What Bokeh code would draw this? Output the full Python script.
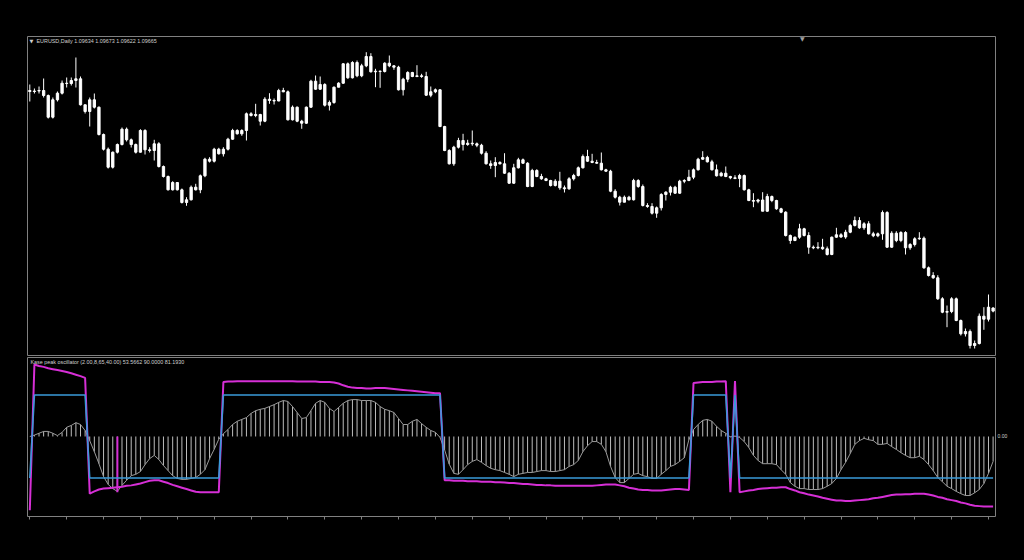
import numpy as np
from bokeh.plotting import figure
from bokeh.layouts import column
from bokeh.models import (ColumnDataSource, Range1d, Label, FixedTicker,
                          CustomJSTickFormatter, LinearAxis)
from bokeh.embed import file_html
from bokeh.resources import INLINE

# ---------------- data ----------------
price_title = "EURUSD,Daily  1.09634 1.09673 1.09622 1.09665"
osc_title = "Kase peak oscillator (2.00,8,65,40.00) 53.5662 90.0000 81.1930"
zero_label = "0.00"

open_ = [
 1.11840, 1.11830, 1.11835, 1.11840, 1.11790, 1.11573, 1.11747, 1.11813, 1.11913, 1.11910,
 1.11940, 1.11957, 1.11697, 1.11630, 1.11747, 1.11673, 1.11400, 1.11253, 1.11073, 1.11223,
 1.11300, 1.11453, 1.11347, 1.11300, 1.11223, 1.11440, 1.11247, 1.11240, 1.11307, 1.11080,
 1.10980, 1.10847, 1.10920, 1.10847, 1.10720, 1.10747, 1.10873, 1.10847, 1.10987, 1.11153,
 1.11133, 1.11253, 1.11207, 1.11253, 1.11353, 1.11440, 1.11407, 1.11440, 1.11607, 1.11590,
 1.11600, 1.11533, 1.11753, 1.11740, 1.11735, 1.11840, 1.11827, 1.11547, 1.11673, 1.11533,
 1.11513, 1.11673, 1.11933, 1.11853, 1.11900, 1.11693, 1.11720, 1.11873, 1.11913, 1.12107,
 1.11967, 1.12120, 1.11987, 1.12087, 1.12180, 1.12027, 1.12033, 1.12030, 1.12113, 1.12087,
 1.12073, 1.11847, 1.11953, 1.12020, 1.11980, 1.11987, 1.11980, 1.11793, 1.11827, 1.11847,
 1.11480, 1.11240, 1.11107, 1.11273, 1.11340, 1.11300, 1.11313, 1.11307, 1.11293, 1.11213,
 1.11107, 1.11090, 1.11120, 1.11107, 1.11013, 1.10913, 1.11067, 1.11147, 1.11113, 1.10880,
 1.11040, 1.10980, 1.10957, 1.10940, 1.10890, 1.10933, 1.10867, 1.10857, 1.10957, 1.10990,
 1.11067, 1.11180, 1.11133, 1.11120, 1.11113, 1.11047, 1.11033, 1.10833, 1.10773, 1.10723,
 1.10773, 1.10747, 1.10940, 1.10880, 1.10690, 1.10680, 1.10613, 1.10667, 1.10800, 1.10823,
 1.10873, 1.10813, 1.10933, 1.10940, 1.10973, 1.11047, 1.11153, 1.11170, 1.11127, 1.11047,
 1.10987, 1.11013, 1.10980, 1.10967, 1.10960, 1.10990, 1.10847, 1.10740, 1.10733, 1.10745,
 1.10633, 1.10780, 1.10740, 1.10657, 1.10623, 1.10390, 1.10340, 1.10373, 1.10457, 1.10390,
 1.10273, 1.10267, 1.10273, 1.10257, 1.10200, 1.10373, 1.10397, 1.10375, 1.10423, 1.10490,
 1.10540, 1.10467, 1.10507, 1.10407, 1.10387, 1.10407, 1.10620, 1.10273, 1.10413, 1.10340,
 1.10420, 1.10267, 1.10300, 1.10357, 1.10363, 1.10067, 1.09990, 1.09967, 1.09757, 1.09623,
 1.09630, 1.09757, 1.09540, 1.09407, 1.09430, 1.09290, 1.09310, 1.09583, 1.09553, 1.09634]

high = [
 1.11900, 1.11860, 1.11880, 1.11960, 1.11800, 1.11770, 1.11830, 1.11940, 1.11970, 1.11970,
 1.12170, 1.11980, 1.11700, 1.11770, 1.11810, 1.11680, 1.11410, 1.11270, 1.11230, 1.11310,
 1.11470, 1.11470, 1.11360, 1.11310, 1.11453, 1.11453, 1.11273, 1.11347, 1.11323, 1.11090,
 1.10990, 1.10933, 1.10920, 1.10860, 1.10773, 1.10890, 1.10907, 1.11000, 1.11167, 1.11173,
 1.11267, 1.11267, 1.11273, 1.11367, 1.11457, 1.11453, 1.11453, 1.11620, 1.11623, 1.11707,
 1.11607, 1.11773, 1.11813, 1.11760, 1.11857, 1.11867, 1.11840, 1.11690, 1.11680, 1.11547,
 1.11680, 1.11947, 1.11990, 1.11980, 1.11913, 1.11740, 1.11880, 1.11923, 1.12113, 1.12120,
 1.12133, 1.12140, 1.12107, 1.12223, 1.12213, 1.12057, 1.12040, 1.12123, 1.12190, 1.12093,
 1.12087, 1.11967, 1.12033, 1.12027, 1.12093, 1.12007, 1.12027, 1.11880, 1.11860, 1.11853,
 1.11487, 1.11253, 1.11287, 1.11367, 1.11407, 1.11347, 1.11440, 1.11320, 1.11307, 1.11233,
 1.11140, 1.11173, 1.11133, 1.11213, 1.11023, 1.11107, 1.11167, 1.11160, 1.11123, 1.11057,
 1.11053, 1.11007, 1.10967, 1.10947, 1.10953, 1.11027, 1.10890, 1.10973, 1.11007, 1.11080,
 1.11200, 1.11247, 1.11207, 1.11147, 1.11220, 1.11057, 1.11047, 1.10853, 1.10787, 1.10790,
 1.10787, 1.10957, 1.10953, 1.10900, 1.10713, 1.10713, 1.10680, 1.10813, 1.10833, 1.10887,
 1.10887, 1.10947, 1.10953, 1.11047, 1.11060, 1.11167, 1.11233, 1.11187, 1.11147, 1.11100,
 1.11027, 1.11080, 1.10987, 1.10993, 1.11007, 1.11000, 1.10857, 1.10813, 1.10757, 1.10823,
 1.10807, 1.10790, 1.10747, 1.10667, 1.10633, 1.10400, 1.10380, 1.10507, 1.10467, 1.10423,
 1.10290, 1.10323, 1.10357, 1.10280, 1.10380, 1.10467, 1.10413, 1.10447, 1.10507, 1.10580,
 1.10573, 1.10523, 1.10533, 1.10427, 1.10420, 1.10640, 1.10633, 1.10433, 1.10433, 1.10433,
 1.10433, 1.10313, 1.10373, 1.10423, 1.10380, 1.10080, 1.10023, 1.09993, 1.09773, 1.09690,
 1.09773, 1.09770, 1.09550, 1.09460, 1.09450, 1.09340, 1.09610, 1.09673, 1.09800, 1.09673]

low = [
 1.11730, 1.11810, 1.11810, 1.11770, 1.11560, 1.11560, 1.11730, 1.11800, 1.11870, 1.11890,
 1.11870, 1.11690, 1.11610, 1.11480, 1.11660, 1.11390, 1.11240, 1.11060, 1.11060, 1.11210,
 1.11290, 1.11330, 1.11270, 1.11210, 1.11220, 1.11200, 1.11220, 1.11140, 1.11070, 1.10970,
 1.10840, 1.10840, 1.10840, 1.10710, 1.10687, 1.10740, 1.10840, 1.10813, 1.10973, 1.11120,
 1.11120, 1.11200, 1.11180, 1.11240, 1.11347, 1.11400, 1.11387, 1.11340, 1.11580, 1.11573,
 1.11490, 1.11523, 1.11707, 1.11700, 1.11733, 1.11823, 1.11540, 1.11540, 1.11523, 1.11457,
 1.11507, 1.11667, 1.11847, 1.11847, 1.11680, 1.11640, 1.11707, 1.11873, 1.11907, 1.11957,
 1.11960, 1.11973, 1.11973, 1.12073, 1.12020, 1.11873, 1.11867, 1.12020, 1.12073, 1.12047,
 1.11840, 1.11790, 1.11923, 1.11973, 1.11973, 1.11967, 1.11787, 1.11773, 1.11813, 1.11473,
 1.11233, 1.11100, 1.11087, 1.11260, 1.11240, 1.11287, 1.11287, 1.11273, 1.11200, 1.11100,
 1.11057, 1.10973, 1.11100, 1.11007, 1.10907, 1.10907, 1.11060, 1.11107, 1.10873, 1.10873,
 1.10973, 1.10947, 1.10933, 1.10880, 1.10880, 1.10847, 1.10820, 1.10847, 1.10940, 1.10980,
 1.11060, 1.11127, 1.11113, 1.11107, 1.11040, 1.11027, 1.10823, 1.10760, 1.10690, 1.10723,
 1.10740, 1.10740, 1.10867, 1.10680, 1.10667, 1.10600, 1.10567, 1.10640, 1.10740, 1.10790,
 1.10807, 1.10807, 1.10913, 1.10933, 1.10953, 1.11040, 1.11147, 1.11120, 1.11040, 1.10980,
 1.10980, 1.10973, 1.10953, 1.10953, 1.10873, 1.10840, 1.10733, 1.10673, 1.10713, 1.10633,
 1.10627, 1.10723, 1.10647, 1.10613, 1.10380, 1.10307, 1.10333, 1.10357, 1.10380, 1.10207,
 1.10253, 1.10253, 1.10247, 1.10190, 1.10193, 1.10367, 1.10367, 1.10357, 1.10413, 1.10480,
 1.10457, 1.10447, 1.10400, 1.10373, 1.10373, 1.10347, 1.10267, 1.10267, 1.10323, 1.10323,
 1.10200, 1.10247, 1.10280, 1.10347, 1.10057, 1.09980, 1.09957, 1.09747, 1.09613, 1.09473,
 1.09613, 1.09533, 1.09390, 1.09380, 1.09260, 1.09260, 1.09300, 1.09447, 1.09530, 1.09622]

close = [
 1.11830, 1.11835, 1.11840, 1.11790, 1.11573, 1.11747, 1.11813, 1.11913, 1.11910, 1.11940,
 1.11957, 1.11697, 1.11630, 1.11747, 1.11673, 1.11400, 1.11253, 1.11073, 1.11223, 1.11300,
 1.11453, 1.11347, 1.11300, 1.11223, 1.11440, 1.11247, 1.11240, 1.11307, 1.11080, 1.10980,
 1.10847, 1.10920, 1.10847, 1.10720, 1.10747, 1.10873, 1.10847, 1.10987, 1.11153, 1.11133,
 1.11253, 1.11207, 1.11253, 1.11353, 1.11440, 1.11407, 1.11440, 1.11607, 1.11590, 1.11600,
 1.11533, 1.11753, 1.11740, 1.11735, 1.11840, 1.11827, 1.11547, 1.11673, 1.11533, 1.11513,
 1.11673, 1.11933, 1.11853, 1.11900, 1.11693, 1.11720, 1.11873, 1.11913, 1.12107, 1.11967,
 1.12120, 1.11987, 1.12087, 1.12180, 1.12027, 1.12033, 1.12030, 1.12113, 1.12087, 1.12073,
 1.11847, 1.11953, 1.12020, 1.11980, 1.11987, 1.11980, 1.11793, 1.11827, 1.11847, 1.11480,
 1.11240, 1.11107, 1.11273, 1.11340, 1.11300, 1.11313, 1.11307, 1.11293, 1.11213, 1.11107,
 1.11090, 1.11120, 1.11107, 1.11013, 1.10913, 1.11067, 1.11147, 1.11113, 1.10880, 1.11040,
 1.10980, 1.10957, 1.10940, 1.10890, 1.10933, 1.10867, 1.10857, 1.10957, 1.10990, 1.11067,
 1.11180, 1.11133, 1.11120, 1.11113, 1.11047, 1.11033, 1.10833, 1.10773, 1.10723, 1.10773,
 1.10747, 1.10940, 1.10880, 1.10690, 1.10680, 1.10613, 1.10667, 1.10800, 1.10823, 1.10873,
 1.10813, 1.10933, 1.10940, 1.10973, 1.11047, 1.11153, 1.11170, 1.11127, 1.11047, 1.10987,
 1.11013, 1.10980, 1.10967, 1.10960, 1.10990, 1.10847, 1.10740, 1.10733, 1.10745, 1.10633,
 1.10780, 1.10740, 1.10657, 1.10623, 1.10390, 1.10340, 1.10373, 1.10457, 1.10390, 1.10273,
 1.10267, 1.10273, 1.10257, 1.10200, 1.10373, 1.10397, 1.10375, 1.10423, 1.10490, 1.10540,
 1.10467, 1.10507, 1.10407, 1.10387, 1.10407, 1.10620, 1.10273, 1.10413, 1.10340, 1.10420,
 1.10267, 1.10300, 1.10357, 1.10363, 1.10067, 1.09990, 1.09967, 1.09757, 1.09623, 1.09630,
 1.09757, 1.09540, 1.09407, 1.09430, 1.09290, 1.09310, 1.09583, 1.09553, 1.09673, 1.09665]

kase_hist = [
 0, 3, 7, 11, 11, 7, 2, 9, 20, 24,
 30, 26, 13, -9, -33, -59, -87, -104, -113, -119,
 -106, -95, -85, -82, -76, -61, -48, -41, -50, -63,
 -74, -85, -91, -93, -93, -91, -89, -82, -72, -48,
 -28, -6, 6, 15, 26, 33, 37, 41, 50, 56,
 59, 61, 65, 69, 74, 78, 76, 65, 52, 39,
 41, 56, 72, 78, 74, 61, 54, 63, 72, 78,
 80, 80, 78, 78, 78, 74, 65, 59, 56, 52,
 39, 26, 26, 33, 37, 28, 20, 13, 9, -2,
 -29, -60, -80, -82, -72, -61, -54, -50, -56, -63,
 -69, -72, -74, -78, -82, -87, -82, -80, -78, -78,
 -76, -74, -74, -76, -76, -74, -72, -65, -61, -52,
 -33, -20, -11, -11, -17, -33, -65, -89, -100, -100,
 -91, -82, -80, -85, -87, -91, -91, -82, -74, -65,
 -61, -54, -46, -7, 15, 26, 35, 37, 33, 22,
 13, 7, -1, 1, -2, -11, -24, -41, -52, -59,
 -59, -59, -61, -72, -82, -100, -108, -113, -113, -115,
 -115, -115, -113, -108, -102, -91, -72, -56, -37, -17,
 -9, -4, -7, -9, -17, -17, -15, -22, -28, -35,
 -41, -46, -46, -43, -50, -61, -74, -89, -98, -108,
 -113, -119, -124, -128, -128, -122, -115, -102, -80, -54]

kase_blue = [
 -90, 90, 90, 90, 90, 90, 90, 90, 90, 90,
 90, 90, 90, -90, -90, -90, -90, -90, -90, -90,
 -90, -90, -90, -90, -90, -90, -90, -90, -90, -90,
 -90, -90, -90, -90, -90, -90, -90, -90, -90, -90,
 -90, -90, 90, 90, 90, 90, 90, 90, 90, 90,
 90, 90, 90, 90, 90, 90, 90, 90, 90, 90,
 90, 90, 90, 90, 90, 90, 90, 90, 90, 90,
 90, 90, 90, 90, 90, 90, 90, 90, 90, 90,
 90, 90, 90, 90, 90, 90, 90, 90, 90, 90,
 -90, -90, -90, -90, -90, -90, -90, -90, -90, -90,
 -90, -90, -90, -90, -90, -90, -90, -90, -90, -90,
 -90, -90, -90, -90, -90, -90, -90, -90, -90, -90,
 -90, -90, -90, -90, -90, -90, -90, -90, -90, -90,
 -90, -90, -90, -90, -90, -90, -90, -90, -90, -90,
 -90, -90, -90, -90, 90, 90, 90, 90, 90, 90,
 90, 90, -90, 90, -90, -90, -90, -90, -90, -90,
 -90, -90, -90, -90, -90, -90, -90, -90, -90, -90,
 -90, -90, -90, -90, -90, -90, -90, -90, -90, -90,
 -90, -90, -90, -90, -90, -90, -90, -90, -90, -90,
 -90, -90, -90, -90, -90, -90, -90, -90, -90, -90,
 -90, -90, -90, -90, -90, -90, -90, -90, -90, -90]

kase_magenta = [
 -160, 156, 153, 151, 148, 146, 144, 142, 140, 137,
 134, 131, 127, -124, -119, -115, -113, -112, -111, -110,
 -109, -107, -106, -104, -102, -99, -96, -95, -95, -98,
 -101, -105, -108, -111, -114, -117, -120, -121, -121, -121,
 -121, -121, 118, 119, 119, 120, 120, 120, 120, 120,
 120, 120, 120, 120, 120, 120, 120, 120, 119, 119,
 119, 119, 119, 118, 118, 118, 117, 115, 111, 108,
 106, 105, 105, 104, 104, 105, 105, 105, 104, 103,
 102, 101, 100, 99, 98, 97, 96, 95, 94, 94,
 -95, -95, -96, -96, -96, -97, -97, -97, -98, -98,
 -98, -99, -99, -100, -101, -101, -102, -103, -103, -104,
 -105, -105, -106, -106, -107, -107, -107, -107, -107, -107,
 -107, -107, -107, -106, -105, -104, -104, -104, -106, -108,
 -111, -113, -115, -116, -116, -117, -117, -117, -116, -115,
 -114, -114, -115, -116, 116, 117, 118, 118, 118, 119,
 119, 120, -121, 120, -121, -119, -117, -116, -114, -113,
 -112, -111, -111, -110, -110, -114, -117, -121, -123, -126,
 -128, -130, -133, -135, -137, -139, -139, -140, -140, -139,
 -138, -137, -136, -134, -133, -131, -129, -127, -126, -126,
 -125, -125, -124, -124, -124, -126, -128, -131, -133, -136,
 -138, -140, -143, -145, -148, -150, -151, -152, -152, -152]

# peak-out marker of the magenta line
peak_bar = [20]
peak_value = [-121]

# ---------------- styling / layout ----------------
BG = "#000000"
FRAME = "#808080"
TXT = "#d0d0d0"
FONT = "Liberation Sans"
BLACK_STYLE = {"background-color": "#000000"}

n = len(close)
bars = np.arange(1, n + 1)
xr = Range1d(0.5, n + 0.52)

o = np.array(open_)
c = np.array(close)
src = ColumnDataSource(dict(x=bars, o=o, c=c, h=high, l=low,
                            top=np.maximum(o, c), bottom=np.minimum(o, c)))

# page geometry: price frame x 27..995, y 36..355; oscillator frame y 357..516
p_top, p_bot = 1.1238, 1.0919
p1 = figure(width=1024, height=357, x_range=xr, y_range=Range1d(p_bot, p_top),
            toolbar_location=None, output_backend="svg", title=None,
            x_axis_location=None, y_axis_location=None,
            min_border_left=27, min_border_right=29, min_border_top=36, min_border_bottom=2,
            background_fill_color=BG, border_fill_color=BG,
            outline_line_color=FRAME, outline_line_width=1, styles=BLACK_STYLE)
p1.grid.visible = False
p1.segment(x0="x", y0="l", x1="x", y1="h", source=src, line_color="white", line_width=1)
p1.vbar(x="x", width=0.5, top="top", bottom="bottom", source=src,
        fill_color="white", line_color="white", line_width=1)

px1 = (p_top - p_bot) / 319.0
p1.add_layout(Label(x=0.5, y=p_top - 4 * px1, x_offset=2, text="\u25BC",
                    text_font="DejaVu Sans", text_font_size="5px", text_color=TXT,
                    text_baseline="middle"))
p1.add_layout(Label(x=0.5, y=p_top - 4 * px1, x_offset=9, text=price_title,
                    text_font=FONT, text_font_size="5.4px", text_color=TXT,
                    text_baseline="middle"))
# chart-shift marker under the top border
p1.add_layout(Label(x=168.6, y=p_top - 1.5 * px1, text="\u25BC", text_align="center",
                    text_font="DejaVu Sans", text_font_size="6px", text_color="#a0a0a0",
                    text_baseline="middle"))

o_top, o_bot = 171.3, -173.5
osrc = ColumnDataSource(dict(x=bars, hist=kase_hist, blue=kase_blue, mag=kase_magenta))
p2 = figure(width=1024, height=203, x_range=xr, y_range=Range1d(o_bot, o_top),
            toolbar_location=None, output_backend="svg", title=None,
            x_axis_location="below", y_axis_location=None,
            min_border_left=27, min_border_right=29, min_border_top=0, min_border_bottom=44,
            background_fill_color=BG, border_fill_color=BG,
            outline_line_color=FRAME, outline_line_width=1, styles=BLACK_STYLE)
p2.grid.visible = False
ax = p2.xaxis[0]
ax.ticker = FixedTicker(ticks=list(range(1, n + 1, 8)))
ax.formatter = CustomJSTickFormatter(code="return ''")
ax.axis_line_color = None
ax.major_tick_line_color = FRAME
ax.major_tick_in = 0
ax.major_tick_out = 3
ax.minor_tick_line_color = None
ax.major_label_text_font_size = "1px"

# right-hand scale showing only the zero level
zax = LinearAxis(ticker=FixedTicker(ticks=[0]),
                 formatter=CustomJSTickFormatter(code="return '%s'" % zero_label))
zax.axis_line_color = None
zax.major_tick_line_color = None
zax.minor_tick_line_color = None
zax.major_tick_out = 0
zax.major_tick_in = 0
zax.major_label_standoff = 2
zax.major_label_text_font = FONT
zax.major_label_text_font_size = "5px"
zax.major_label_text_color = TXT
p2.add_layout(zax, "right")

p2.segment(x0="x", y0=0, x1="x", y1="hist", source=osrc, line_color="#bdbdbd", line_width=1)
p2.line(x="x", y="hist", source=osrc, line_color="#9a9a9a", line_width=1)
p2.line(x="x", y="mag", source=osrc, line_color="#d62fd6", line_width=2)
p2.segment(x0=peak_bar, y0=[0] * len(peak_bar), x1=peak_bar, y1=peak_value,
           line_color="#d62fd6", line_width=2)
p2.line(x="x", y="blue", source=osrc, line_color="#3a9ad9", line_width=1.6)

px2 = (o_top - o_bot) / 159.0
p2.add_layout(Label(x=0.5, y=o_top - 4 * px2, x_offset=3, text=osc_title,
                    text_font=FONT, text_font_size="5.4px", text_color=TXT,
                    text_baseline="middle"))

layout = column(p1, p2, spacing=0, styles=BLACK_STYLE)
html = file_html(layout, INLINE, title="EURUSD Daily - Kase peak oscillator")
css = ("<style>html, body {margin:0 !important; padding:0 !important; "
       "background-color:#000000 !important; overflow:hidden;}</style>")
html = html.replace("</head>", css + "</head>", 1)
open("out.html", "w").write(html)
